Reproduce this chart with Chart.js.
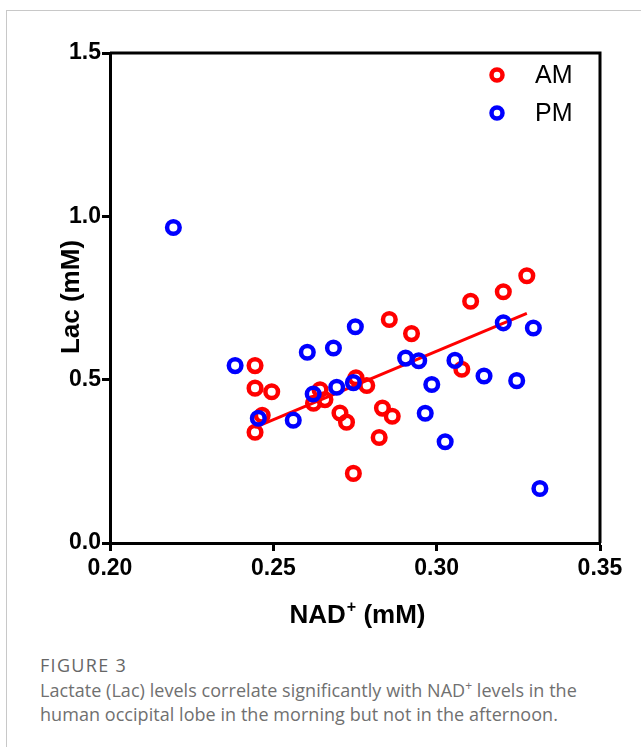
<!DOCTYPE html>
<html>
<head>
<meta charset="utf-8">
<script src="https://cdn.jsdelivr.net/npm/chart.js@4.4.1/dist/chart.umd.min.js"></script>
<style>
    body { margin: 0; background: #fff; width: 641px; height: 747px; overflow: hidden; position: relative; }
    #card { position: absolute; left: 6px; top: 10px; width: 700px; height: 800px;
            border-left: 1px solid #c8c8c8; border-top: 1px solid #c8c8c8; }
    #chart { position: absolute; left: 0; top: 0; }
    #caption { position: absolute; left: 40px; top: 653px; font-family: "Open Sans", sans-serif;
               color: #707070; font-size: 18px; line-height: 24.5px; letter-spacing: 0.05px; }
    #caption .fig { color: #666; font-size: 18px; letter-spacing: 1.3px; }
</style>
</head>
<body>
<div id="card"></div>
<canvas id="chart" width="641" height="640"></canvas>
<div id="caption">
    <div class="fig">FIGURE 3</div>
    <div>Lactate (Lac) levels correlate significantly with NAD<sup style="font-size:12px;line-height:0">+</sup> levels in the<br>human occipital lobe in the morning but not in the afternoon.</div>
</div>
<script>
// NAD+ (mM) vs Lac (mM), morning scans
var amX = [0.2444, 0.2444, 0.2495, 0.2466, 0.2444, 0.2643, 0.2658, 0.2623, 0.2704, 0.2724, 0.2745,
    0.2753, 0.2786, 0.2834, 0.2864, 0.2824, 0.2855, 0.2923, 0.3077, 0.3104, 0.3204, 0.3276];
var amY = [0.543, 0.474, 0.463, 0.391, 0.339, 0.469, 0.439, 0.428, 0.398, 0.370, 0.213,
    0.506, 0.482, 0.413, 0.388, 0.323, 0.684, 0.641, 0.532, 0.740, 0.769, 0.818];

// afternoon scans
var pmX = [0.2194, 0.2383, 0.2454, 0.2561, 0.2604, 0.2622, 0.2684, 0.2694, 0.2745, 0.2751, 0.2905,
    0.2945, 0.2985, 0.2965, 0.3026, 0.3056, 0.3145, 0.3204, 0.3245, 0.3296, 0.3316];
var pmY = [0.966, 0.543, 0.382, 0.376, 0.584, 0.456, 0.597, 0.477, 0.491, 0.662, 0.566,
    0.558, 0.485, 0.397, 0.310, 0.559, 0.511, 0.674, 0.497, 0.658, 0.167];

// regression line for AM (end points)
var fitX = [0.2444, 0.3276];
var fitY = [0.354, 0.703];

var xTicks = [0.20, 0.25, 0.30, 0.35];
var yTicks = [0.0, 0.5, 1.0, 1.5];
var seriesNames = ['AM', 'PM'];
var seriesColors = ['#ff0000', '#0000ff'];

function toPoints(xs, ys) {
    var pts = [];
    for (var i = 0; i < xs.length; i++) {
        pts.push({x: xs[i], y: ys[i]});
    }
    return pts;
}

var boldFont = '"Liberation Sans", Arial, sans-serif';

// frame, axis titles and legend
var decorations = {
    id: 'decorations',
    afterDraw: function (chart) {
        var ctx = chart.ctx;
        var a = chart.chartArea;
        ctx.save();
        ctx.strokeStyle = '#000';
        ctx.lineWidth = 3;
        ctx.beginPath();
        ctx.moveTo(a.left, a.top);
        ctx.lineTo(a.right, a.top);
        ctx.lineTo(a.right, a.bottom);
        ctx.stroke();

        ctx.fillStyle = '#000';
        // y title
        ctx.font = 'bold 26px ' + boldFont;
        ctx.textAlign = 'center';
        ctx.textBaseline = 'middle';
        ctx.translate(72, 297);
        ctx.rotate(-Math.PI / 2);
        ctx.fillText('Lac (mM)', 0, 0);
        ctx.setTransform(1, 0, 0, 1, 0, 0);

        // x title with superscript +
        ctx.textAlign = 'left';
        ctx.textBaseline = 'alphabetic';
        var base = 623;
        ctx.font = 'bold 26px ' + boldFont;
        var w1 = ctx.measureText('NAD').width;
        ctx.font = 'bold 16px ' + boldFont;
        var w2 = ctx.measureText('+').width;
        ctx.font = 'bold 26px ' + boldFont;
        var w3 = ctx.measureText(' (mM)').width;
        var x0 = 357 - (w1 + w2 + w3) / 2;
        ctx.fillText('NAD', x0, base);
        ctx.font = 'bold 16px ' + boldFont;
        ctx.fillText('+', x0 + w1 + 1, base - 11);
        ctx.font = 'bold 26px ' + boldFont;
        ctx.fillText(' (mM)', x0 + w1 + w2 + 1, base);

        // legend
        ctx.font = '25px ' + boldFont;
        ctx.textBaseline = 'middle';
        for (var i = 0; i < seriesNames.length; i++) {
            var ly = 75 + i * 38;
            ctx.strokeStyle = seriesColors[i];
            ctx.lineWidth = 4.5;
            ctx.beginPath();
            ctx.arc(497, ly, 5.5, 0, Math.PI * 2);
            ctx.stroke();
            ctx.fillStyle = '#000';
            ctx.fillText(seriesNames[i], 535, ly + 1);
        }
        ctx.restore();
    }
};

var ctx = document.getElementById('chart');
var myChart = new Chart(ctx, {
    type: 'scatter',
    data: {
        datasets: [
            {
                label: 'AM',
                data: toPoints(amX, amY),
                borderColor: seriesColors[0],
                backgroundColor: 'rgba(0,0,0,0)',
                pointRadius: 6.3,
                pointBorderWidth: 4.5,
                order: 3
            },
            {
                label: 'AM fit',
                type: 'line',
                data: toPoints(fitX, fitY),
                borderColor: seriesColors[0],
                borderWidth: 3,
                pointRadius: 0,
                fill: false,
                order: 2
            },
            {
                label: 'PM',
                data: toPoints(pmX, pmY),
                borderColor: seriesColors[1],
                backgroundColor: 'rgba(0,0,0,0)',
                pointRadius: 6.3,
                pointBorderWidth: 4.5,
                order: 1
            }
        ]
    },
    options: {
        responsive: false,
        animation: false,
        layout: {padding: {left: 0, top: 53, right: 41, bottom: 0}},
        plugins: {
            legend: {display: false},
            tooltip: {enabled: false}
        },
        scales: {
            x: {
                type: 'linear',
                min: 0.2,
                max: 0.35,
                afterBuildTicks: function (scale) {
                    scale.ticks = xTicks.map(function (v) { return {value: v}; });
                },
                afterFit: function (scale) { scale.height = 97; },
                grid: {drawOnChartArea: false, tickLength: 8, tickWidth: 3, tickColor: '#000'},
                border: {display: true, width: 3, color: '#000'},
                ticks: {
                    color: '#000',
                    padding: 4,
                    maxRotation: 0,
                    font: {family: boldFont, size: 23, weight: 'bold'},
                    callback: function (v) { return v.toFixed(2); }
                }
            },
            y: {
                min: 0,
                max: 1.5,
                afterBuildTicks: function (scale) {
                    scale.ticks = yTicks.map(function (v) { return {value: v}; });
                },
                afterFit: function (scale) { scale.width = 110; },
                grid: {drawOnChartArea: false, tickLength: 8, tickWidth: 3, tickColor: '#000'},
                border: {display: true, width: 3, color: '#000'},
                ticks: {
                    color: '#000',
                    padding: 1,
                    font: {family: boldFont, size: 23, weight: 'bold'},
                    callback: function (v) { return v.toFixed(1); }
                }
            }
        }
    },
    plugins: [decorations]
});
</script>
</body>
</html>
